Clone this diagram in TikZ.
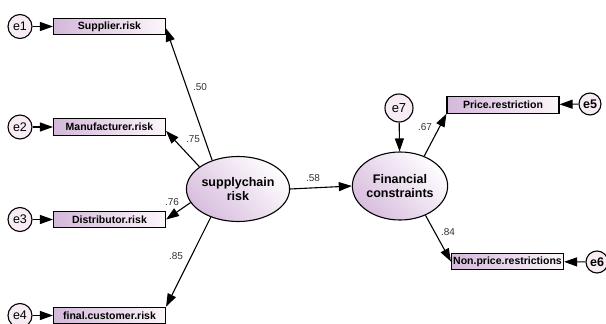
\documentclass[tikz,border=0pt]{standalone}
\usepackage{fontspec}
\setmainfont{Liberation Sans}
\usetikzlibrary{arrows.meta,shapes.geometric}
\definecolor{boxL}{RGB}{212,184,218}
\definecolor{boxR}{RGB}{252,246,250}
\definecolor{ellL}{RGB}{216,190,222}
\definecolor{ellR}{RGB}{255,253,255}
\definecolor{efill}{RGB}{248,236,244}
\begin{document}
\begin{tikzpicture}[x=1pt,y=-1pt,
  obs/.style={draw, line width=1.1pt, rectangle, minimum width=112pt, minimum height=16.5pt, inner sep=0pt, left color=boxL, right color=boxR, font=\fontsize{10.5}{12}\selectfont\bfseries},
  lat/.style={draw, line width=1.1pt, ellipse, inner sep=0pt, top color=ellR, bottom color=ellL, shading angle=-45, font=\fontsize{12.5}{14}\selectfont\bfseries, align=center},
  err/.style={draw, line width=1.1pt, circle, minimum size=24pt, inner sep=0pt, fill=efill, font=\fontsize{12.5}{14}\selectfont},
  arr/.style={line width=1.1pt, -{Triangle[length=13pt,width=9pt]}},
  coef/.style={font=\fontsize{10}{12}\selectfont, text=black!80}
]
\useasboundingbox (0,0) rectangle (606,324);
% observed indicators (left)
\node[obs] (sup) at (109.5,26.5) {Supplier.risk};
\node[obs] (man) at (109.5,127) {Manufacturer.risk};
\node[obs] (dis) at (109.5,219.5) {Distributor.risk};
\node[obs] (fin) at (109.5,315.5) {final.customer.risk};
% errors left
\node[err] (e1) at (20,26.5) {e1};
\node[err] (e2) at (20,127) {e2};
\node[err] (e3) at (20,219.5) {e3};
\node[err] (e4) at (20,315.5) {e4};
% latent variables
\node[lat, minimum width=92pt, minimum height=65pt] (scr) at (238,189) {supplychain\\risk};
\node[lat, minimum width=92pt, minimum height=68pt] (fc) at (400,186) {Financial\\constraints};
% right indicators
\node[obs] (pr) at (503,105) {Price.restriction};
\node[obs] (npr) at (507.5,261.5) {Non.price.restrictions};
\node[err, minimum size=22pt, font=\fontsize{12.5}{14}\selectfont\bfseries] (e5) at (590,104) {e5};
\node[err, minimum size=22pt, font=\fontsize{12.5}{14}\selectfont\bfseries] (e6) at (597,262) {e6};
\node[err, minimum size=28pt, font=\fontsize{13}{15}\selectfont] (e7) at (399,108) {e7};
% error arrows
\draw[arr] (e1) -- (sup);
\draw[arr] (e2) -- (man);
\draw[arr] (e3) -- (dis);
\draw[arr] (e4) -- (fin);
\draw[arr] (e5) -- (pr);
\draw[arr] (e6) -- (npr);
\draw[arr] (e7) -- (fc);
% loadings
\draw[arr] (scr.132) -- (sup.-2);
\draw[arr] (scr.150) -- (man.-4);
\draw[arr] (scr.196) -- (dis.east);
\draw[arr] (scr.226) -- (fin.north east);
\draw[arr] (scr.east) -- (fc.west);
\draw[arr] (fc.51) -- (pr.south west);
\draw[arr] (fc.311) -- (npr.west);
% coefficients
\node[coef] (c1) at (200,87) {.50};
\node[coef] (c2) at (193,139) {.75};
\node[coef] (c3) at (172,202) {.76};
\node[coef] (c4) at (176,256) {.85};
\node[coef] (c5) at (313,178) {.58};
\node[coef] (c6) at (425,127) {.67};
\node[coef] (c7) at (448,232) {.84};
\end{tikzpicture}
\end{document}
